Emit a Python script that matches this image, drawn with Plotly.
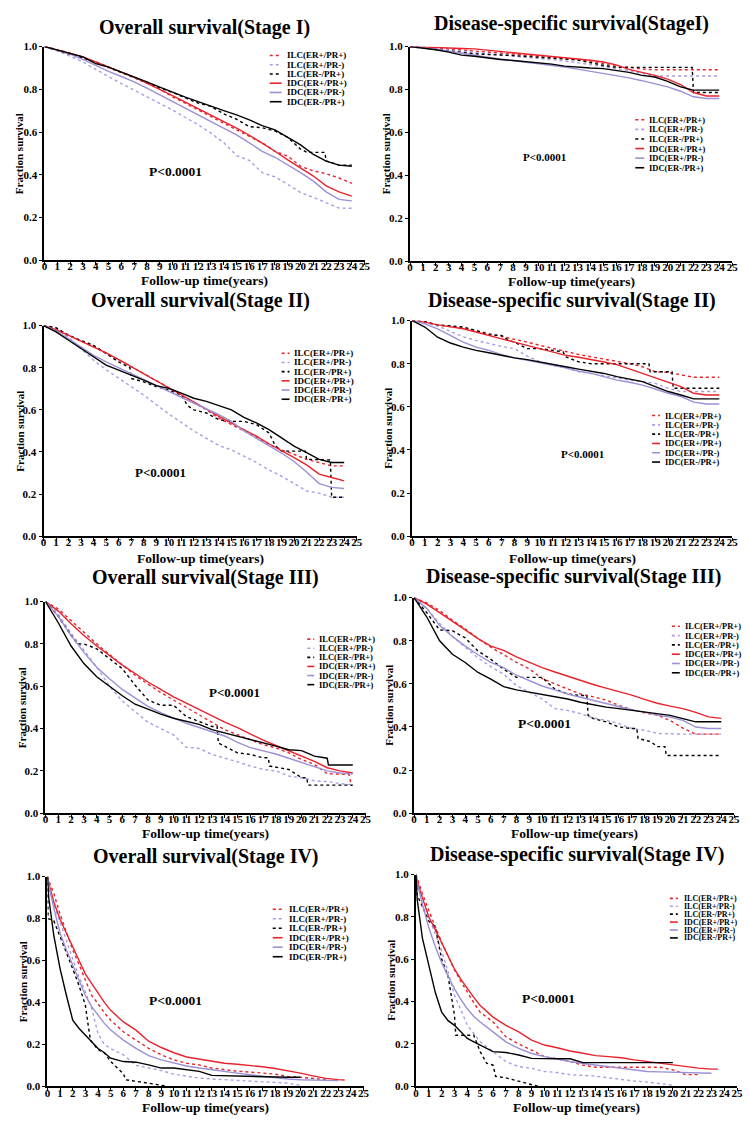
import plotly.graph_objects as go

W, H = 749, 1121

# ---------------- data ----------------
YEARS = list(range(25))
SERIES = ["ILC(ER+/PR+)", "ILC(ER+/PR-)", "ILC(ER-/PR+)", "IDC(ER+/PR+)", "IDC(ER+/PR-)", "IDC(ER-/PR+)"]
X_TICKS = list(range(26))
Y_TICKS = [0.0, 0.2, 0.4, 0.6, 0.8, 1.0]

# Stage I overall survival
OS1_ILC_PP = [1, 0.985, 0.97, 0.95, 0.925, 0.90, 0.878, 0.855, 0.83, 0.80, 0.765, 0.735, 0.703, 0.672, 0.64, 0.61, 0.58, 0.55, 0.51, 0.487, 0.44, 0.418, 0.405, 0.385, 0.36]
OS1_ILC_PN = [1, 0.98, 0.955, 0.928, 0.893, 0.858, 0.827, 0.796, 0.765, 0.735, 0.703, 0.668, 0.634, 0.595, 0.55, 0.49, 0.467, 0.41, 0.39, 0.355, 0.317, 0.294, 0.27, 0.244, 0.243]
OS1_ILC_NP_T = [0, 2, 4, 6, 8, 10, 12, 13, 14, 15, 16, 17, 18, 19, 20, 20.5, 21.9, 22, 23, 24]
OS1_ILC_NP = [1, 0.965, 0.928, 0.88, 0.83, 0.785, 0.735, 0.72, 0.685, 0.66, 0.625, 0.62, 0.605, 0.575, 0.52, 0.505, 0.505, 0.465, 0.445, 0.445]
OS1_IDC_PP = [1, 0.985, 0.97, 0.952, 0.928, 0.903, 0.88, 0.857, 0.83, 0.80, 0.77, 0.74, 0.71, 0.68, 0.65, 0.618, 0.585, 0.549, 0.51, 0.47, 0.433, 0.394, 0.348, 0.32, 0.30]
OS1_IDC_PN = [1, 0.983, 0.965, 0.94, 0.912, 0.884, 0.86, 0.835, 0.805, 0.773, 0.742, 0.711, 0.68, 0.649, 0.618, 0.587, 0.549, 0.51, 0.482, 0.448, 0.41, 0.37, 0.32, 0.285, 0.278]
OS1_IDC_NP = [1, 0.985, 0.97, 0.952, 0.92, 0.904, 0.88, 0.858, 0.835, 0.81, 0.785, 0.763, 0.742, 0.72, 0.70, 0.68, 0.657, 0.63, 0.61, 0.575, 0.54, 0.495, 0.464, 0.445, 0.44]

# Stage I disease-specific survival
DSS1_ILC_PP = [1, 0.997, 0.993, 0.988, 0.984, 0.98, 0.975, 0.97, 0.965, 0.96, 0.955, 0.95, 0.945, 0.94, 0.932, 0.92, 0.908, 0.903, 0.895, 0.892, 0.892, 0.892, 0.892, 0.892, 0.892]
DSS1_ILC_PN = [1, 0.995, 0.988, 0.982, 0.978, 0.974, 0.968, 0.962, 0.956, 0.951, 0.946, 0.94, 0.933, 0.925, 0.915, 0.905, 0.897, 0.889, 0.874, 0.863, 0.863, 0.863, 0.863, 0.863, 0.863]
DSS1_ILC_NP_T = [0, 2, 5, 8, 10, 13, 15, 16, 21.9, 22, 24]
DSS1_ILC_NP = [1, 0.985, 0.966, 0.958, 0.95, 0.938, 0.912, 0.903, 0.903, 0.786, 0.786]
DSS1_IDC_PP = [1, 0.997, 0.995, 0.993, 0.991, 0.989, 0.983, 0.977, 0.971, 0.966, 0.96, 0.955, 0.95, 0.943, 0.936, 0.928, 0.915, 0.894, 0.88, 0.866, 0.848, 0.823, 0.786, 0.77, 0.77]
DSS1_IDC_PN = [1, 0.995, 0.988, 0.978, 0.968, 0.958, 0.95, 0.942, 0.935, 0.928, 0.92, 0.913, 0.905, 0.895, 0.885, 0.874, 0.864, 0.854, 0.841, 0.828, 0.812, 0.792, 0.766, 0.758, 0.758]
DSS1_IDC_NP = [1, 0.993, 0.985, 0.974, 0.96, 0.955, 0.947, 0.94, 0.935, 0.93, 0.925, 0.918, 0.909, 0.903, 0.90, 0.897, 0.89, 0.88, 0.866, 0.858, 0.838, 0.812, 0.797, 0.797, 0.797]

# Stage II overall survival
OS2_ILC_PP = [1, 0.985, 0.955, 0.925, 0.90, 0.87, 0.838, 0.805, 0.773, 0.74, 0.705, 0.67, 0.635, 0.60, 0.56, 0.53, 0.50, 0.47, 0.436, 0.41, 0.389, 0.365, 0.35, 0.334, 0.334]
OS2_ILC_PN = [1, 0.985, 0.945, 0.89, 0.835, 0.79, 0.75, 0.71, 0.67, 0.625, 0.58, 0.54, 0.50, 0.465, 0.43, 0.41, 0.38, 0.35, 0.315, 0.285, 0.25, 0.215, 0.205, 0.185, 0.185]
OS2_ILC_NP_T = [0, 1, 2, 4, 5, 6, 6.9, 7, 8, 9, 10, 11, 11.5, 12, 13, 14, 15, 16, 17, 18, 18.5, 19, 20, 20.9, 21, 22, 22.9, 23, 24]
OS2_ILC_NP = [1, 0.99, 0.953, 0.906, 0.867, 0.827, 0.80, 0.749, 0.733, 0.71, 0.694, 0.67, 0.62, 0.60, 0.585, 0.553, 0.545, 0.545, 0.53, 0.49, 0.43, 0.404, 0.404, 0.404, 0.365, 0.365, 0.362, 0.185, 0.185]
OS2_IDC_PP = [1, 0.98, 0.953, 0.925, 0.898, 0.87, 0.838, 0.805, 0.773, 0.739, 0.705, 0.672, 0.64, 0.604, 0.569, 0.538, 0.506, 0.475, 0.439, 0.404, 0.373, 0.339, 0.295, 0.279, 0.263]
OS2_IDC_PN = [1, 0.975, 0.937, 0.898, 0.859, 0.828, 0.80, 0.77, 0.741, 0.714, 0.687, 0.66, 0.632, 0.604, 0.577, 0.545, 0.50, 0.465, 0.43, 0.395, 0.355, 0.305, 0.25, 0.232, 0.227]
OS2_IDC_NP = [1, 0.97, 0.93, 0.89, 0.851, 0.812, 0.788, 0.765, 0.741, 0.715, 0.702, 0.679, 0.655, 0.64, 0.621, 0.60, 0.564, 0.538, 0.506, 0.467, 0.428, 0.397, 0.365, 0.35, 0.35]

# Stage II disease-specific survival
DSS2_ILC_PP = [1, 0.995, 0.98, 0.972, 0.965, 0.953, 0.94, 0.928, 0.916, 0.90, 0.885, 0.87, 0.855, 0.843, 0.832, 0.822, 0.812, 0.80, 0.786, 0.763, 0.76, 0.747, 0.737, 0.737, 0.737]
DSS2_ILC_PN = [1, 0.99, 0.975, 0.95, 0.925, 0.908, 0.893, 0.88, 0.87, 0.835, 0.809, 0.793, 0.781, 0.763, 0.755, 0.744, 0.732, 0.724, 0.717, 0.709, 0.686, 0.671, 0.671, 0.671, 0.671]
DSS2_ILC_NP_T = [0, 1, 2, 3, 4, 5, 6, 7, 7.5, 8, 9, 10, 11, 11.8, 12, 13, 14, 18.5, 18.6, 20.3, 20.4, 24]
DSS2_ILC_NP = [1, 0.995, 0.98, 0.975, 0.97, 0.954, 0.934, 0.931, 0.91, 0.90, 0.87, 0.87, 0.862, 0.855, 0.832, 0.809, 0.80, 0.80, 0.763, 0.763, 0.686, 0.686]
DSS2_IDC_PP = [1, 0.993, 0.98, 0.972, 0.962, 0.947, 0.93, 0.915, 0.90, 0.885, 0.87, 0.855, 0.839, 0.83, 0.82, 0.808, 0.796, 0.776, 0.755, 0.736, 0.717, 0.694, 0.663, 0.655, 0.655]
DSS2_IDC_PN = [1, 0.985, 0.962, 0.931, 0.90, 0.877, 0.862, 0.842, 0.827, 0.816, 0.806, 0.793, 0.781, 0.766, 0.755, 0.74, 0.724, 0.714, 0.701, 0.683, 0.663, 0.648, 0.622, 0.613, 0.613]
DSS2_IDC_NP = [1, 0.97, 0.923, 0.896, 0.877, 0.862, 0.851, 0.839, 0.827, 0.819, 0.809, 0.796, 0.786, 0.775, 0.766, 0.755, 0.74, 0.729, 0.717, 0.694, 0.671, 0.655, 0.637, 0.637, 0.637]

# Stage III overall survival
OS3_ILC_PP_T = list(range(24)) + [23.7, 23.9]
OS3_ILC_PP = [1, 0.965, 0.91, 0.855, 0.80, 0.75, 0.70, 0.652, 0.61, 0.57, 0.535, 0.50, 0.465, 0.426, 0.395, 0.371, 0.348, 0.324, 0.309, 0.285, 0.254, 0.231, 0.187, 0.184, 0.184, 0.129]
OS3_ILC_PN = [1, 0.94, 0.85, 0.77, 0.69, 0.60, 0.53, 0.48, 0.43, 0.40, 0.37, 0.312, 0.306, 0.278, 0.262, 0.243, 0.223, 0.207, 0.20, 0.176, 0.168, 0.153, 0.15, 0.14, 0.134]
OS3_ILC_NP_T = [0, 1, 2, 2.5, 3, 4, 5, 6, 7, 8, 9, 10, 11, 12, 13, 13.4, 13.5, 15, 16, 17, 17.4, 17.5, 19, 20, 20.4, 20.5, 24]
OS3_ILC_NP = [1, 0.93, 0.84, 0.80, 0.80, 0.777, 0.73, 0.683, 0.605, 0.535, 0.51, 0.51, 0.457, 0.434, 0.41, 0.41, 0.332, 0.285, 0.278, 0.262, 0.262, 0.223, 0.207, 0.168, 0.168, 0.133, 0.133]
OS3_IDC_PP = [1, 0.955, 0.895, 0.84, 0.79, 0.745, 0.70, 0.66, 0.62, 0.585, 0.55, 0.52, 0.49, 0.46, 0.43, 0.405, 0.375, 0.345, 0.32, 0.295, 0.27, 0.245, 0.215, 0.20, 0.19]
OS3_IDC_PN = [1, 0.93, 0.84, 0.76, 0.69, 0.635, 0.585, 0.545, 0.505, 0.475, 0.45, 0.425, 0.405, 0.385, 0.365, 0.335, 0.31, 0.295, 0.28, 0.26, 0.24, 0.22, 0.20, 0.19, 0.185]
OS3_IDC_NP_T = list(range(23)) + [22.1, 24]
OS3_IDC_NP = [1, 0.90, 0.79, 0.707, 0.645, 0.598, 0.555, 0.515, 0.49, 0.468, 0.449, 0.435, 0.42, 0.395, 0.38, 0.363, 0.348, 0.332, 0.317, 0.30, 0.296, 0.27, 0.26, 0.228, 0.228]

# Stage III disease-specific survival
DSS3_ILC_PP = [1, 0.975, 0.94, 0.895, 0.855, 0.81, 0.77, 0.735, 0.70, 0.67, 0.625, 0.60, 0.575, 0.553, 0.54, 0.525, 0.50, 0.48, 0.466, 0.455, 0.43, 0.395, 0.367, 0.367, 0.367]
DSS3_ILC_PN = [1, 0.95, 0.88, 0.82, 0.77, 0.72, 0.68, 0.645, 0.592, 0.561, 0.53, 0.485, 0.477, 0.462, 0.442, 0.431, 0.416, 0.393, 0.385, 0.37, 0.367, 0.367, 0.367, 0.367, 0.367]
DSS3_ILC_NP_T = [0, 1, 2, 3, 4, 5, 6, 7, 8, 10, 11, 12, 13, 13.5, 13.6, 14, 15, 16, 17, 17.4, 17.5, 18.5, 19, 19.6, 19.7, 24]
DSS3_ILC_NP = [1, 0.93, 0.85, 0.847, 0.813, 0.752, 0.714, 0.668, 0.63, 0.63, 0.576, 0.553, 0.546, 0.546, 0.454, 0.439, 0.424, 0.40, 0.393, 0.393, 0.347, 0.332, 0.309, 0.309, 0.268, 0.268]
DSS3_IDC_PP = [1, 0.97, 0.93, 0.89, 0.85, 0.81, 0.775, 0.755, 0.725, 0.70, 0.675, 0.655, 0.635, 0.615, 0.597, 0.58, 0.565, 0.548, 0.528, 0.51, 0.497, 0.485, 0.468, 0.447, 0.44]
DSS3_IDC_PN = [1, 0.95, 0.87, 0.82, 0.775, 0.735, 0.70, 0.675, 0.64, 0.615, 0.59, 0.572, 0.553, 0.538, 0.523, 0.508, 0.495, 0.48, 0.469, 0.455, 0.446, 0.431, 0.40, 0.393, 0.393]
DSS3_IDC_NP = [1, 0.91, 0.80, 0.737, 0.699, 0.653, 0.622, 0.587, 0.572, 0.562, 0.553, 0.542, 0.53, 0.515, 0.503, 0.492, 0.485, 0.477, 0.469, 0.462, 0.454, 0.439, 0.424, 0.424, 0.424]

# Stage IV (finer early time grid)
T4 = [0, 0.1, 0.5, 1, 1.5, 2, 2.5, 3, 3.5, 4, 4.5, 5, 6, 7, 8, 9, 10, 11, 12, 13, 14, 15, 16, 17, 18, 19, 20, 21, 22, 23, 23.5]
OS4_ILC_PP = [1, 0.98, 0.92, 0.82, 0.735, 0.65, 0.58, 0.51, 0.433, 0.394, 0.35, 0.315, 0.26, 0.22, 0.181, 0.15, 0.126, 0.11, 0.102, 0.087, 0.079, 0.072, 0.068, 0.063, 0.058, 0.047, 0.044, 0.038, 0.031, None, None]
OS4_ILC_PN = [1, 0.95, 0.87, 0.78, 0.69, 0.60, 0.52, 0.45, 0.37, 0.25, 0.20, 0.18, 0.15, 0.10, 0.087, 0.075, 0.058, 0.05, 0.039, 0.035, 0.032, 0.03, 0.027, 0.024, 0.02, 0.015, 0.005, None, None, None, None]
OS4_ILC_NP_T = [0, 0.05, 0.5, 1, 1.5, 2, 2.5, 3, 3.2, 3.4, 4, 4.5, 5, 5.5, 6, 6.2, 7, 8, 9, 9.5]
OS4_ILC_NP = [1, 0.80, 0.79, 0.716, 0.64, 0.56, 0.48, 0.386, 0.30, 0.22, 0.175, 0.16, 0.118, 0.087, 0.06, 0.031, 0.025, 0.015, 0.005, 0.0]
OS4_IDC_PP = [1, 0.97, 0.88, 0.795, 0.73, 0.669, 0.60, 0.535, 0.49, 0.449, 0.40, 0.362, 0.307, 0.268, 0.215, 0.185, 0.16, 0.14, 0.13, 0.118, 0.11, 0.105, 0.10, 0.093, 0.085, 0.075, 0.063, 0.05, 0.038, 0.032, 0.03]
OS4_IDC_PN = [1, 0.96, 0.85, 0.73, 0.65, 0.575, 0.50, 0.433, 0.38, 0.339, 0.30, 0.268, 0.22, 0.181, 0.146, 0.126, 0.11, 0.097, 0.087, 0.078, 0.071, 0.063, 0.055, 0.048, 0.039, 0.035, 0.031, 0.029, 0.027, 0.027, None]
OS4_IDC_NP = [1, 0.90, 0.72, 0.56, 0.433, 0.315, 0.276, 0.244, 0.21, 0.18, 0.16, 0.134, 0.118, 0.115, 0.102, 0.087, 0.087, 0.08, 0.071, 0.052, 0.05, 0.048, 0.046, 0.045, 0.044, 0.043, 0.043, None, None, None, None]

DSS4_ILC_PP = [1, 0.98, 0.91, 0.83, 0.755, 0.68, 0.615, 0.55, 0.495, 0.444, 0.395, 0.35, 0.304, 0.234, 0.20, 0.171, 0.14, 0.13, 0.117, 0.10, 0.09, 0.09, 0.09, 0.09, 0.09, 0.09, 0.078, 0.055, 0.055, None, None]
DSS4_ILC_PN = [1, 0.96, 0.90, 0.80, 0.72, 0.64, 0.54, 0.43, 0.36, 0.288, 0.25, 0.21, 0.164, 0.117, 0.093, 0.085, 0.07, 0.065, 0.055, 0.052, 0.048, 0.04, 0.031, 0.025, 0.02, 0.012, 0.005, None, None, None, None]
DSS4_ILC_NP_T = [0, 0.1, 0.5, 1, 1.5, 2, 2.5, 3, 3.1, 4.5, 5, 5.5, 6, 6.2, 7, 8, 9, 9.5]
DSS4_ILC_NP = [1, 0.90, 0.85, 0.78, 0.755, 0.60, 0.52, 0.335, 0.241, 0.241, 0.164, 0.109, 0.10, 0.047, 0.04, 0.023, 0.008, 0.0]
DSS4_IDC_PP = [1, 0.97, 0.89, 0.80, 0.74, 0.678, 0.615, 0.553, 0.505, 0.46, 0.42, 0.382, 0.327, 0.288, 0.257, 0.218, 0.195, 0.182, 0.167, 0.156, 0.145, 0.14, 0.135, 0.125, 0.117, 0.11, 0.10, 0.093, 0.086, 0.081, 0.081]
DSS4_IDC_PN = [1, 0.96, 0.86, 0.75, 0.66, 0.584, 0.52, 0.46, 0.41, 0.366, 0.33, 0.304, 0.257, 0.21, 0.179, 0.155, 0.14, 0.128, 0.117, 0.108, 0.10, 0.093, 0.086, 0.078, 0.07, 0.068, 0.066, 0.064, 0.063, 0.062, None]
DSS4_IDC_NP = [1, 0.88, 0.70, 0.568, 0.444, 0.35, 0.31, 0.288, 0.255, 0.226, 0.21, 0.195, 0.164, 0.16, 0.148, 0.132, 0.13, 0.13, 0.13, 0.112, 0.112, 0.112, 0.112, 0.112, 0.112, 0.112, 0.112, None, None, None, None]

TITLES = ["Overall survival(Stage I)", "Disease-specific survival(StageI)",
          "Overall survival(Stage II)", "Disease-specific survival(Stage II)",
          "Overall survival(Stage III)", "Disease-specific survival(Stage III)",
          "Overall survival(Stage IV)", "Disease-specific survival(Stage IV)"]
P_TEXT = "P<0.0001"

PANELS = [
    [(YEARS, OS1_ILC_PP), (YEARS, OS1_ILC_PN), (OS1_ILC_NP_T, OS1_ILC_NP), (YEARS, OS1_IDC_PP), (YEARS, OS1_IDC_PN), (YEARS, OS1_IDC_NP)],
    [(YEARS, DSS1_ILC_PP), (YEARS, DSS1_ILC_PN), (DSS1_ILC_NP_T, DSS1_ILC_NP), (YEARS, DSS1_IDC_PP), (YEARS, DSS1_IDC_PN), (YEARS, DSS1_IDC_NP)],
    [(YEARS, OS2_ILC_PP), (YEARS, OS2_ILC_PN), (OS2_ILC_NP_T, OS2_ILC_NP), (YEARS, OS2_IDC_PP), (YEARS, OS2_IDC_PN), (YEARS, OS2_IDC_NP)],
    [(YEARS, DSS2_ILC_PP), (YEARS, DSS2_ILC_PN), (DSS2_ILC_NP_T, DSS2_ILC_NP), (YEARS, DSS2_IDC_PP), (YEARS, DSS2_IDC_PN), (YEARS, DSS2_IDC_NP)],
    [(OS3_ILC_PP_T, OS3_ILC_PP), (YEARS, OS3_ILC_PN), (OS3_ILC_NP_T, OS3_ILC_NP), (YEARS, OS3_IDC_PP), (YEARS, OS3_IDC_PN), (OS3_IDC_NP_T, OS3_IDC_NP)],
    [(YEARS, DSS3_ILC_PP), (YEARS, DSS3_ILC_PN), (DSS3_ILC_NP_T, DSS3_ILC_NP), (YEARS, DSS3_IDC_PP), (YEARS, DSS3_IDC_PN), (YEARS, DSS3_IDC_NP)],
    [(T4, OS4_ILC_PP), (T4, OS4_ILC_PN), (OS4_ILC_NP_T, OS4_ILC_NP), (T4, OS4_IDC_PP), (T4, OS4_IDC_PN), (T4, OS4_IDC_NP)],
    [(T4, DSS4_ILC_PP), (T4, DSS4_ILC_PN), (DSS4_ILC_NP_T, DSS4_ILC_NP), (T4, DSS4_IDC_PP), (T4, DSS4_IDC_PN), (T4, DSS4_IDC_NP)],
]

# ---------------- styles / layout (pixels) ----------------
RED = "#e8232b"
LAV = "#9b90d6"
LAV_DOT = "#a79de6"
BLACK = "#000000"
STYLES = [(RED, "dot"), (LAV_DOT, "dot"), (BLACK, "dot"), (RED, "solid"), (LAV, "solid"), (BLACK, "solid")]
FONT = "Liberation Serif"

# plot areas in pixel coordinates: x0, x1, y0(top), y1(bottom)
AREAS = [(42, 366, 41, 257), (412, 738, 41, 258),
         (41, 358, 323, 536), (414, 738, 318, 536),
         (43, 367, 602, 816), (416, 740, 598, 816),
         (45, 365, 880, 1092), (418, 743, 878, 1092)]
TITLE_Y = [22, 18, 298, 298, 578, 577, 860, 858]
XTITLE_Y = [277, 278, 558, 558, 836, 836, 1113, 1113]
YTITLE_X = [17, 388, 17, 390, 20, 391, 21, 393]
P_POS = [(175, 167, 13.5), (548, 153, 11), (159, 472, 13), (587, 453, 11),
         (234, 694, 13), (548, 725, 13.5), (175, 1005, 13.5), (552, 1003, 13.5)]
# legend: sample x0, sample x1, text x, first y, step, font size
LEG = [(270, 282, 285, 50, 9.35, 9), (640, 649, 652, 115, 9.7, 8.5),
       (282, 290, 293, 351, 9.3, 9), (657, 665, 668, 414, 9.4, 8.5),
       (308, 315, 318, 640, 9.2, 8.5), (677, 685, 688, 627, 9.4, 8.5),
       (273, 283, 287, 913, 9.6, 9), (675, 683, 687, 902, 8.0, 8)]


def px(x):
    return x / W


def py(y):
    return 1 - y / H


fig = go.Figure()
annotations = []
shapes = []

for i, panel in enumerate(PANELS):
    n = i + 1
    xa = "x" if n == 1 else f"x{n}"
    ya = "y" if n == 1 else f"y{n}"
    for (t, s), name, (col, dash) in zip(panel, SERIES, STYLES):
        fig.add_trace(go.Scatter(x=t, y=s, mode="lines", name=name, showlegend=False,
                                 line=dict(color=col, width=1.4, dash=dash),
                                 xaxis=xa, yaxis=ya, connectgaps=False))
    x0, x1, y0, y1 = AREAS[i]
    axis_common = dict(showline=True, linecolor="black", linewidth=2, showgrid=False, zeroline=False,
                       ticks="outside", ticklen=3, tickwidth=1, tickcolor="black",
                       tickfont=dict(family=FONT, size=11, color="black", weight="bold"))
    fig.layout[f"xaxis{'' if n == 1 else n}"] = dict(
        domain=[px(x0), px(x1)], range=[0, 25], anchor=ya, tickmode="array",
        tickvals=X_TICKS, ticktext=[str(v) for v in X_TICKS], tickangle=0,
        ticklabelstandoff=-8, **axis_common)
    fig.layout[f"yaxis{'' if n == 1 else n}"] = dict(
        domain=[py(y1), py(y0)], range=[0, 1.0], anchor=xa, tickmode="array",
        tickvals=Y_TICKS, ticktext=[f"{v:.1f}" for v in Y_TICKS], **axis_common)

    cx = (x0 + x1) / 2
    annotations.append(dict(x=px(cx), y=py(TITLE_Y[i]), xref="paper", yref="paper", text=f"<b>{TITLES[i]}</b>",
                            showarrow=False, xanchor="center", yanchor="middle",
                            font=dict(family=FONT, size=20, color="black")))
    annotations.append(dict(x=px(cx), y=py(XTITLE_Y[i]), xref="paper", yref="paper", text="<b>Follow-up time(years)</b>",
                            showarrow=False, xanchor="center", yanchor="middle",
                            font=dict(family=FONT, size=13.5, color="black")))
    annotations.append(dict(x=px(YTITLE_X[i]), y=py((y0 + y1) / 2), xref="paper", yref="paper", text="<b>Fraction survival</b>",
                            showarrow=False, xanchor="center", yanchor="middle", textangle=-90,
                            font=dict(family=FONT, size=11, color="black")))
    ppx, ppy, pfs = P_POS[i]
    annotations.append(dict(x=px(ppx), y=py(ppy), xref="paper", yref="paper", text=f"<b>{P_TEXT}</b>",
                            showarrow=False, xanchor="center", yanchor="middle",
                            font=dict(family=FONT, size=pfs, color="black")))
    sx0, sx1, tx, ly, dy, fs = LEG[i]
    for k, (name, (col, dash)) in enumerate(zip(SERIES, STYLES)):
        yy = ly + k * dy
        shapes.append(dict(type="line", xref="paper", yref="paper", x0=px(sx0), x1=px(sx1), y0=py(yy), y1=py(yy),
                           line=dict(color=col, width=1.6, dash="dot" if dash == "dot" else "solid")))
        annotations.append(dict(x=px(tx), y=py(yy), xref="paper", yref="paper", text=f"<b>{name}</b>",
                                showarrow=False, xanchor="left", yanchor="middle",
                                font=dict(family=FONT, size=fs, color="black")))

fig.update_layout(width=W, height=H, margin=dict(l=0, r=0, t=0, b=0),
                  paper_bgcolor="white", plot_bgcolor="white",
                  annotations=annotations, shapes=shapes, showlegend=False)

fig.write_html("out.html", config={"displayModeBar": False},
               post_script="document.body.style.margin='0';")
